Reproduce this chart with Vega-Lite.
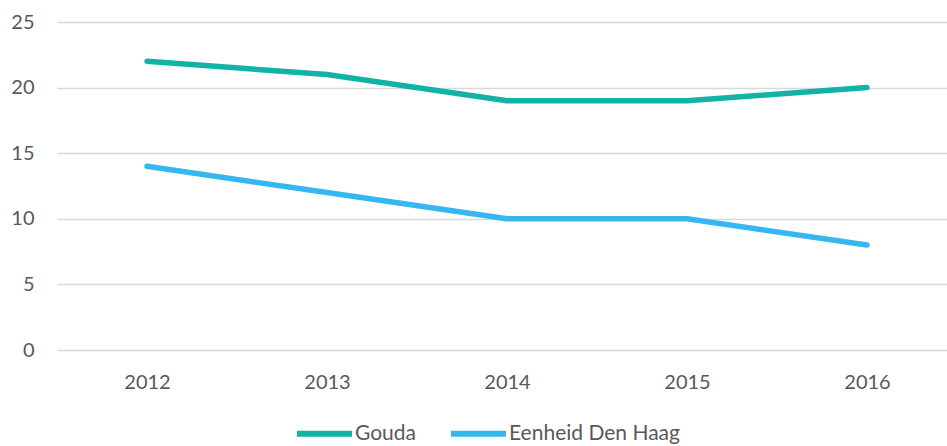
{
  "$schema": "https://vega.github.io/schema/vega-lite/v6.json",
  "width": 900,
  "height": 328,
  "autosize": "none",
  "padding": {"left": 57, "top": 22, "right": 0, "bottom": 96},
  "background": "white",
  "config": {
    "view": {"stroke": null},
    "font": "Lato",
    "axis": {"labelFont": "Lato", "labelFontSize": 20, "labelColor": "#595959", "domain": false, "ticks": false, "gridColor": "#d9d9d9", "gridWidth": 1.5, "title": null}
  },
  "data": {
    "values": [
      {"year": "2012", "series": "Gouda", "value": 22},
      {"year": "2013", "series": "Gouda", "value": 21},
      {"year": "2014", "series": "Gouda", "value": 19},
      {"year": "2015", "series": "Gouda", "value": 19},
      {"year": "2016", "series": "Gouda", "value": 20},
      {"year": "2012", "series": "Eenheid Den Haag", "value": 14},
      {"year": "2013", "series": "Eenheid Den Haag", "value": 12},
      {"year": "2014", "series": "Eenheid Den Haag", "value": 10},
      {"year": "2015", "series": "Eenheid Den Haag", "value": 10},
      {"year": "2016", "series": "Eenheid Den Haag", "value": 8}
    ]
  },
  "mark": {"type": "line", "strokeWidth": 5.5, "strokeCap": "round", "strokeJoin": "round"},
  "encoding": {
    "x": {"field": "year", "type": "ordinal", "scale": {"type": "point", "padding": 0.5}, "axis": {"labelAngle": 0, "grid": false, "labelPadding": 22}},
    "y": {"field": "value", "type": "quantitative", "scale": {"domain": [0, 25], "nice": false}, "axis": {"values": [0, 5, 10, 15, 20, 25], "labelPadding": 23, "grid": true}},
    "color": {
      "field": "series",
      "type": "nominal",
      "scale": {"domain": ["Gouda", "Eenheid Den Haag"], "range": ["#10B3A5", "#36B7EF"]},
      "legend": {
        "title": null,
        "orient": "none",
        "direction": "horizontal",
        "legendX": 237,
        "legendY": 381,
        "symbolType": "stroke",
        "symbolSize": 3025,
        "symbolStrokeWidth": 6,
        "labelFontSize": 21,
        "labelLimit": 400,
        "labelColor": "#595959",
        "labelOffset": 0,
        "columnPadding": 22
      }
    }
  }
}
